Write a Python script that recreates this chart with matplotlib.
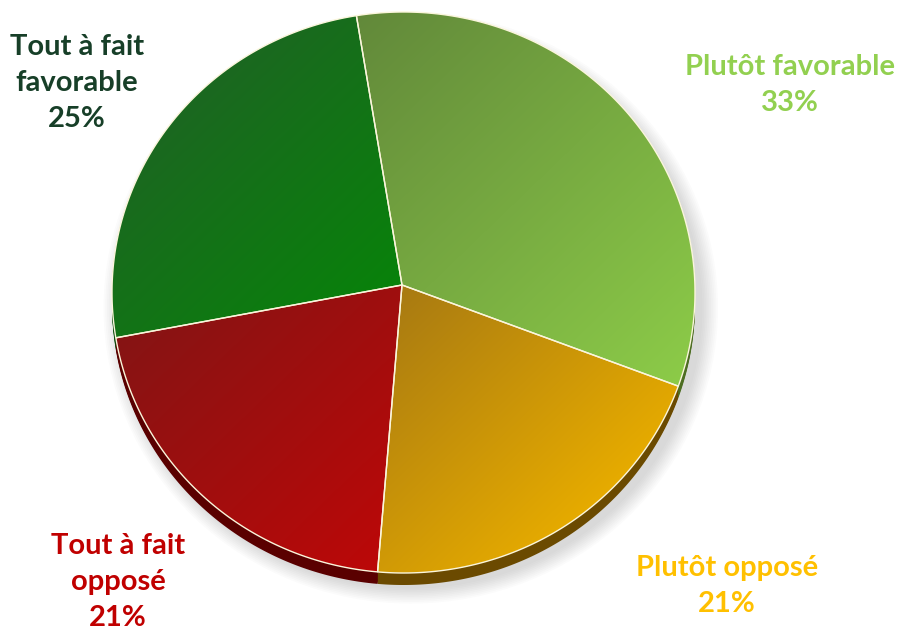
import numpy as np
import matplotlib
matplotlib.use("Agg")
import matplotlib.pyplot as plt
from matplotlib.patches import Polygon, Ellipse
from matplotlib.colors import to_rgb

categories = ["Plutôt favorable", "Plutôt opposé", "Tout à fait opposé", "Tout à fait favorable"]
values = [33, 21, 21, 25]
label_text = ["Plutôt favorable\n33%", "Plutôt opposé\n21%",
              "Tout à fait\nopposé\n21%", "Tout à fait\nfavorable\n25%"]

dark_colors = ["#62893a", "#a87a12", "#861414", "#1b6820"]
light_colors = ["#8ccb48", "#e6ab00", "#bc0808", "#08820a"]
side_colors = ["#4d6e22", "#6b4a00", "#5a0000", "#0d4d0d"]
text_colors = ["#92D050", "#FFC000", "#C00000", "#173F28"]
label_pos_px = [(790, 85), (727, 586), (118, 582), (77, 83)]

W, H = 900, 631
ecx, ecy, rx, ry = 403.5, 292.5, 291.5, 280.5
apex_px = (402, 285)

fig = plt.figure(figsize=(W / 100, H / 100), dpi=100)
ax = fig.add_axes([0, 0, 1, 1])
ax.axis('off')

apex = ((apex_px[0] - ecx) / rx, (ecy - apex_px[1]) / ry)

start = 99.3
total = sum(values)
spans = []
a = start
for v in values:
    s = 360.0 * v / total
    spans.append((a - s, a))
    a -= s


def wedge_verts(t1, t2, dy=0.0):
    th = np.radians(np.linspace(t2, t1, 200))
    pts = np.column_stack([np.cos(th), np.sin(th) - dy])
    return np.vstack([[apex[0], apex[1] - dy], pts])


# soft shadow
for i in range(10):
    e = Ellipse((0.025, -0.055), 2 + 0.012 * i, 2 + 0.012 * i,
                facecolor="#808080", edgecolor="none", alpha=0.03, zorder=1)
    ax.add_patch(e)

# side (depth)
depth = 12 / ry
for k in np.linspace(depth, 0.002, 10):
    for (t1, t2), sc in zip(spans, side_colors):
        ax.add_patch(Polygon(wedge_verts(t1, t2, k), closed=True,
                             facecolor=sc, edgecolor="none", zorder=2))

# top surface with gradients
nx = 300
xs = np.linspace(-1, 1, nx)
ys = np.linspace(1, -1, nx)
X, Y = np.meshgrid(xs, ys)
T = X - Y
for (t1, t2), dc, lc in zip(spans, dark_colors, light_colors):
    v = wedge_verts(t1, t2)
    tv = v[:, 0] - v[:, 1]
    tn = np.clip((T - tv.min()) / (tv.max() - tv.min()), 0, 1)
    c0, c1 = np.array(to_rgb(dc)), np.array(to_rgb(lc))
    img = c0[None, None, :] * (1 - tn[..., None]) + c1[None, None, :] * tn[..., None]
    clip = Polygon(v, closed=True, facecolor="none", edgecolor="none")
    ax.add_patch(clip)
    im = ax.imshow(img, extent=(-1, 1, -1, 1), aspect='auto', zorder=3,
                   interpolation='bilinear')
    im.set_clip_path(clip)
    ax.add_patch(Polygon(v, closed=True, facecolor="none",
                         edgecolor="#fbf6dc", linewidth=1.0, zorder=4))

ax.set_xlim(-ecx / rx, (W - ecx) / rx)
ax.set_ylim((ecy - H) / ry, ecy / ry)

for txt, (px_, py_), col in zip(label_text, label_pos_px, text_colors):
    fig.text(px_ / W, 1 - py_ / H, txt, ha='center', va='center', color=col,
             fontsize=21, fontweight='bold', family=['Lato', 'DejaVu Sans'],
             linespacing=1.47, multialignment='center')

fig.savefig("out.png", dpi=100)
